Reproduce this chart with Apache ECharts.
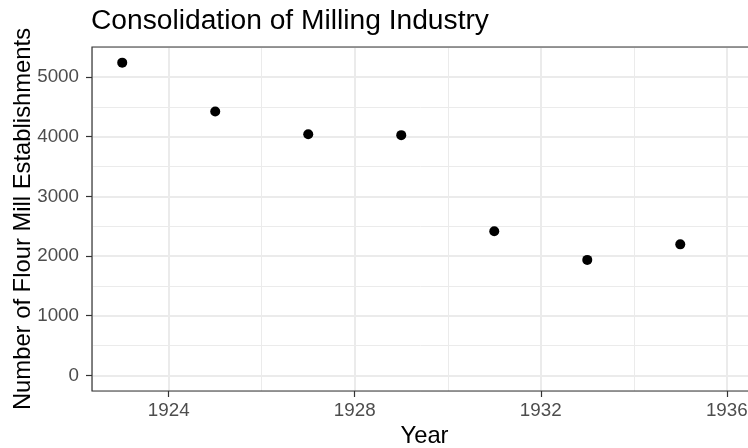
<!DOCTYPE html>
<html>
<head>
<meta charset="utf-8">
<script src="https://cdn.jsdelivr.net/npm/echarts@6/dist/echarts.min.js"></script>
<style>
	html, body { margin: 0; padding: 0; background: #fff; }
	#chart { width: 748px; height: 448px; }
</style>
</head>
<body>
<div id="chart"></div>
<script>
	// data
	var years = [1923, 1925, 1927, 1929, 1931, 1933, 1935];
	var mills = [5240, 4420, 4040, 4025, 2415, 1935, 2195];

	var xTicks = [1924, 1928, 1932, 1936];
	var yTicks = [0, 1000, 2000, 3000, 4000, 5000];

	// ggplot style limits: x padded, y includes 0 and padded 5%
	var yMaxData = Math.max.apply(null, mills);
	var yPad = yMaxData * 0.05;
	var yMin = -yPad, yMax = yMaxData + yPad;
	var xMin = 1922.35, xMax = 1936.65;

	var font = "'Liberation Sans', Arial, sans-serif";
	var gridColor = "#EBEBEB";

	var points = [];
	for(var i=0; i<years.length; i++)
		points.push([years[i], mills[i]]);

	var plain = function(v) { return String(v); };

	var chart = echarts.init(document.getElementById("chart"), null, { renderer: "canvas" });

	chart.setOption(
	{
		backgroundColor: "#fff",
		animation: false,
		title:
		{
			text: "Consolidation of Milling Industry",
			left: 91,
			top: 7,
			padding: 0,
			textStyle: { fontFamily: font, fontSize: 28.2, fontWeight: "normal", color: "#000" }
		},
		grid:
		{
			left: 92, top: 47, width: 665, height: 344,
			containLabel: false, outerBoundsMode: "none",
			show: true, backgroundColor: "transparent",
			borderColor: "#333", borderWidth: 1.2, z: 10
		},
		xAxis:
		[
			{
				type: "value", min: xMin, max: xMax, minInterval: 4, maxInterval: 4,
				name: "Year", nameLocation: "middle", nameGap: 33, nameMoveOverlap: false,
				nameTextStyle: { fontFamily: font, fontSize: 23.8, color: "#000" },
				axisLine: { show: false, onZero: false },
				axisTick: { show: true, length: 6, customValues: xTicks, lineStyle: { color: "#333", width: 1.2 } },
				axisLabel: { customValues: xTicks, formatter: plain,
					fontFamily: font, fontSize: 18.8, color: "#4D4D4D", margin: 10 },
				splitLine: { show: true, lineStyle: { color: gridColor, width: 2 } }
			},
			{
				type: "value", min: xMin, max: xMax, minInterval: 2, maxInterval: 2,
				position: "top",
				axisLine: { show: false, onZero: false }, axisTick: { show: false }, axisLabel: { show: false },
				splitLine: { show: true, lineStyle: { color: gridColor, width: 1 } }
			}
		],
		yAxis:
		[
			{
				type: "value", min: yMin, max: yMax, minInterval: 1000, maxInterval: 1000,
				name: "Number of Flour Mill Establishments", nameLocation: "middle", nameGap: 57, nameMoveOverlap: false,
				nameTextStyle: { fontFamily: font, fontSize: 23.8, color: "#000" },
				axisLine: { show: false, onZero: false },
				axisTick: { show: true, length: 6, customValues: yTicks, lineStyle: { color: "#333", width: 1.2 } },
				axisLabel: { customValues: yTicks, formatter: plain,
					fontFamily: font, fontSize: 18.8, color: "#4D4D4D", margin: 13 },
				splitLine: { show: true, lineStyle: { color: gridColor, width: 2 } }
			},
			{
				type: "value", min: yMin, max: yMax, minInterval: 500, maxInterval: 500,
				position: "right",
				axisLine: { show: false, onZero: false }, axisTick: { show: false }, axisLabel: { show: false },
				splitLine: { show: true, lineStyle: { color: gridColor, width: 1 } }
			}
		],
		series:
		[
			{
				type: "scatter",
				xAxisIndex: 0, yAxisIndex: 0,
				data: points,
				symbol: "circle",
				symbolSize: 10,
				itemStyle: { color: "#000", opacity: 1 },
				z: 5
			}
		]
	});
</script>
</body>
</html>
